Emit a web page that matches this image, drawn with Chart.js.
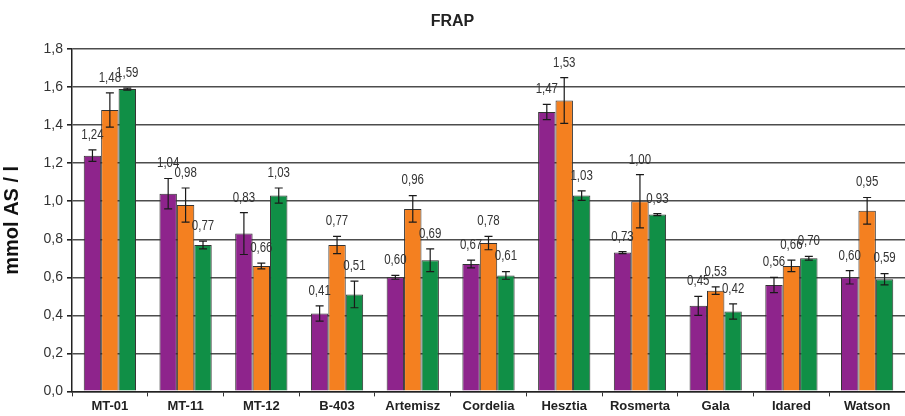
<!DOCTYPE html>
<html>
<head>
<meta charset="utf-8">
<script src="https://cdn.jsdelivr.net/npm/chart.js@4"></script>
<style>
  html, body { margin: 0; padding: 0; background: #fff; }
  #wrap { width: 905px; height: 416px; }
</style>
</head>
<body>
<div id="wrap"><canvas id="frap"></canvas></div>
<script>
var fajtak = ['MT-01', 'MT-11', 'MT-12', 'B-403', 'Artemisz', 'Cordelia', 'Hesztia', 'Rosmerta', 'Gala', 'Idared', 'Watson'];

var lila = [1.24, 1.04, 0.83, 0.41, 0.60, 0.67, 1.47, 0.73, 0.45, 0.56, 0.60];
var narancs = [1.48, 0.98, 0.66, 0.77, 0.96, 0.78, 1.53, 1.00, 0.53, 0.66, 0.95];
var zold = [1.59, 0.77, 1.03, 0.51, 0.69, 0.61, 1.03, 0.93, 0.42, 0.70, 0.59];

var lilaHiba = [0.03, 0.08, 0.11, 0.04, 0.01, 0.02, 0.04, 0.005, 0.05, 0.04, 0.035];
var narancsHiba = [0.09, 0.09, 0.015, 0.045, 0.07, 0.035, 0.12, 0.14, 0.02, 0.03, 0.07];
var zoldHiba = [0.005, 0.02, 0.04, 0.07, 0.06, 0.02, 0.025, 0.005, 0.04, 0.01, 0.03];

var hibak = [lilaHiba, narancsHiba, zoldHiba];

function vesszo(v) {
    return v.toFixed(2).replace('.', ',');
}

// hibasavok es ertekcimkek
var hibaPlugin = {
    id: 'hibasav',
    afterDatasetsDraw: function (chart) {
        var c = chart.ctx;
        var y = chart.scales.y;
        c.save();
        chart.data.datasets.forEach(function (ds, i) {
            var meta = chart.getDatasetMeta(i);
            meta.data.forEach(function (bar, j) {
                var v = ds.data[j];
                var e = hibak[i][j];
                var top = y.getPixelForValue(v + e);
                var bot = y.getPixelForValue(v - e);
                c.strokeStyle = '#1a1a1a';
                c.lineWidth = 1.2;
                c.beginPath();
                c.moveTo(bar.x, top); c.lineTo(bar.x, bot);
                c.moveTo(bar.x - 4, top); c.lineTo(bar.x + 4, top);
                c.moveTo(bar.x - 4, bot); c.lineTo(bar.x + 4, bot);
                c.stroke();
                // keskeny betu: vizszintesen osszenyomva
                c.save();
                c.translate(bar.x, Math.min(top, bar.y) - 8);
                c.scale(0.82, 1);
                c.fillStyle = '#333';
                c.font = '14px "Liberation Sans", Arial, sans-serif';
                c.textAlign = 'center';
                c.textBaseline = 'bottom';
                c.fillText(vesszo(v), 0, 0);
                c.restore();
            });
        });
        c.restore();
    }
};

var ctx = document.getElementById('frap');
var myChart = new Chart(ctx, {
    type: 'bar',
    data: {
        labels: fajtak,
        datasets: [
            {
                label: 'lila',
                data: lila,
                backgroundColor: 'rgb(142, 36, 140)',
                borderColor: '#333',
                borderWidth: 1
            },
            {
                label: 'narancs',
                data: narancs,
                backgroundColor: 'rgb(244, 128, 32)',
                borderColor: '#333',
                borderWidth: 1
            },
            {
                label: 'zold',
                data: zold,
                backgroundColor: 'rgb(16, 143, 70)',
                borderColor: '#333',
                borderWidth: 1
            }
        ]
    },
    options: {
        responsive: true,
        maintainAspectRatio: false,
        animation: false,
        categoryPercentage: 0.69,
        barPercentage: 1.0,
        layout: { padding: { left: 0, right: 0, top: 0, bottom: 0 } },
        plugins: {
            legend: { display: false },
            tooltip: { enabled: false },
            title: {
                display: true,
                text: 'FRAP',
                color: '#222',
                font: { family: 'Liberation Sans', size: 16, weight: 'bold' },
                padding: { top: 12, bottom: 18 }
            }
        },
        scales: {
            x: {
                grid: {
                    display: true,
                    drawOnChartArea: false,
                    drawTicks: true,
                    tickLength: 5,
                    color: '#333',
                    offset: true
                },
                border: { display: true, color: '#222', width: 1.5 },
                ticks: {
                    color: '#222',
                    padding: 2,
                    font: { family: 'Liberation Sans', size: 13, weight: 'bold' }
                }
            },
            y: {
                min: 0,
                max: 1.8,
                afterFit: function (scale) { scale.width = 72; },
                grid: {
                    color: '#4d4d4d',
                    lineWidth: 1.6,
                    tickLength: 5,
                    tickColor: '#222'
                },
                border: { display: true, color: '#222', width: 1.5 },
                ticks: {
                    stepSize: 0.2,
                    color: '#333',
                    padding: 4,
                    font: { family: 'Liberation Sans', size: 14 },
                    callback: function (v) { return v.toFixed(1).replace('.', ','); }
                },
                title: {
                    display: true,
                    text: 'mmol AS / l',
                    color: '#111',
                    padding: { top: 0, bottom: 2 },
                    font: { family: 'Liberation Sans', size: 20, weight: 'bold' }
                }
            }
        }
    },
    plugins: [hibaPlugin]
});
</script>
</body>
</html>
